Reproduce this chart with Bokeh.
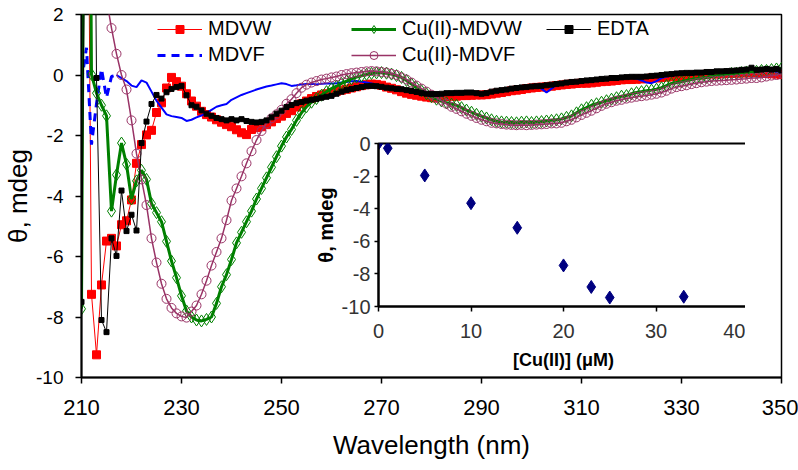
from bokeh.plotting import figure
from bokeh.models import Range1d, FixedTicker, Legend, LegendItem, GridBox
from bokeh.embed import file_html
from bokeh.resources import INLINE

FONT = "Liberation Sans"

wavelength = list(range(210, 351))

mdvw = [
    6.0, 14.0, -7.25, -9.25, -6.94, -5.49, -5.40, -5.65, -4.95, -4.82,
    -4.13, -2.92, -2.30, -1.98, -1.83, -1.24, -0.92, -0.43, -0.08, -0.22,
    -0.37, -0.62, -0.86, -1.03, -1.20, -1.31, -1.39, -1.48, -1.56, -1.64,
    -1.71, -1.81, -1.91, -1.97, -1.80, -1.74, -1.71, -1.64, -1.55, -1.44,
    -1.36, -1.27, -1.18, -1.06, -0.95, -0.86, -0.78, -0.71, -0.66, -0.62,
    -0.58, -0.54, -0.50, -0.47, -0.43, -0.39, -0.35, -0.32, -0.30, -0.31,
    -0.34, -0.40, -0.44, -0.49, -0.55, -0.60, -0.64, -0.67, -0.70, -0.73,
    -0.75, -0.76, -0.73, -0.71, -0.70, -0.70, -0.68, -0.68, -0.67, -0.66,
    -0.66, -0.65, -0.63, -0.60, -0.58, -0.55, -0.52, -0.50, -0.48, -0.45,
    -0.43, -0.41, -0.40, -0.39, -0.37, -0.35, -0.33, -0.31, -0.30, -0.28,
    -0.27, -0.27, -0.26, -0.24, -0.22, -0.21, -0.20, -0.18, -0.16, -0.15,
    -0.15, -0.14, -0.13, -0.12, -0.10, -0.10, -0.08, -0.07, -0.06, -0.05,
    -0.04, -0.03, -0.02, 0.00, 0.00, 0.02, 0.03, 0.03, 0.04, 0.05,
    0.05, 0.06, 0.07, 0.07, 0.08, 0.08, 0.06, 0.05, 0.04, 0.03,
    0.01,
]

mdvf = [
    -0.20, 0.90, -2.30, -0.95, 0.20, -0.75, -0.05, 0.00, -0.10, -0.20,
    -0.35, -0.40, -0.18, -0.25, -0.55, -0.85, -1.08, -1.30, -1.36, -1.39,
    -1.42, -1.52, -1.48, -1.40, -1.34, -1.25, -1.15, -1.05, -1.00, -0.96,
    -0.82, -0.74, -0.66, -0.60, -0.54, -0.48, -0.43, -0.38, -0.35, -0.31,
    -0.27, -0.30, -0.36, -0.34, -0.31, -0.30, -0.29, -0.31, -0.29, -0.28,
    -0.28, -0.27, -0.25, -0.23, -0.21, -0.20, -0.22, -0.25, -0.28, -0.32,
    -0.38, -0.42, -0.45, -0.48, -0.50, -0.52, -0.55, -0.57, -0.60, -0.62,
    -0.64, -0.65, -0.64, -0.63, -0.62, -0.62, -0.61, -0.60, -0.60, -0.61,
    -0.63, -0.62, -0.58, -0.55, -0.52, -0.50, -0.48, -0.45, -0.43, -0.42,
    -0.40, -0.40, -0.45, -0.58, -0.45, -0.33, -0.31, -0.28, -0.26, -0.25,
    -0.23, -0.22, -0.20, -0.18, -0.16, -0.15, -0.13, -0.12, -0.12, -0.10,
    -0.10, -0.12, -0.18, -0.25, -0.27, -0.20, -0.10, -0.05, -0.02, 0.00,
    0.02, 0.03, 0.05, 0.05, 0.06, 0.07, 0.08, 0.09, 0.10, 0.10,
    0.10, 0.12, 0.13, 0.14, 0.15, 0.15, 0.14, 0.13, 0.12, 0.10,
    0.05,
]

cu_mdvw = [
    -7.73, 25.0, 0.02, -0.60, -1.00, -1.35, -4.50, -3.30, -2.25, -2.95,
    -4.10, -3.50, -3.15, -3.45, -4.25, -4.55, -4.85, -5.50, -6.15, -6.70,
    -7.30, -7.80, -8.00, -8.10, -8.13, -8.08, -8.00, -7.55, -7.00, -6.60,
    -6.10, -5.55, -5.20, -4.85, -4.50, -4.10, -3.75, -3.40, -3.05, -2.70,
    -2.35, -2.05, -1.80, -1.50, -1.25, -1.05, -0.90, -0.78, -0.67, -0.55,
    -0.45, -0.37, -0.28, -0.20, -0.13, -0.07, -0.03, 0.02, 0.05, 0.07,
    0.08, 0.06, 0.03, -0.02, -0.08, -0.18, -0.30, -0.42, -0.52, -0.62,
    -0.72, -0.80, -0.86, -0.92, -0.96, -1.00, -1.08, -1.16, -1.23, -1.30,
    -1.36, -1.42, -1.48, -1.53, -1.55, -1.56, -1.57, -1.58, -1.56, -1.55,
    -1.57, -1.55, -1.54, -1.52, -1.50, -1.48, -1.45, -1.40, -1.35, -1.25,
    -1.15, -1.08, -1.00, -0.95, -0.90, -0.85, -0.80, -0.75, -0.70, -0.68,
    -0.62, -0.58, -0.55, -0.52, -0.50, -0.47, -0.42, -0.35, -0.28, -0.25,
    -0.22, -0.18, -0.15, -0.12, -0.10, -0.08, -0.05, -0.02, 0.00, 0.02,
    0.05, 0.06, 0.08, 0.10, 0.10, 0.12, 0.15, 0.15, 0.18, 0.20,
    0.22,
]

cu_mdvf = [
    9.0, 8.0, 6.0, 4.5, 3.4, 2.5, 1.55, 0.70, 0.00, -0.48,
    -1.50, -2.60, -3.45, -4.30, -5.40, -6.20, -6.90, -7.40, -7.70, -7.88,
    -7.98, -8.02, -7.82, -7.62, -7.25, -6.80, -6.30, -5.85, -5.40, -4.80,
    -4.15, -3.75, -3.35, -2.92, -2.52, -2.15, -1.85, -1.60, -1.43, -1.30,
    -1.15, -0.95, -0.80, -0.60, -0.42, -0.32, -0.25, -0.20, -0.15, -0.12,
    -0.08, -0.05, 0.00, 0.03, 0.06, 0.08, 0.10, 0.12, 0.13, 0.12,
    0.10, 0.08, 0.04, 0.00, -0.08, -0.15, -0.25, -0.35, -0.45, -0.55,
    -0.65, -0.75, -0.85, -0.95, -1.05, -1.12, -1.20, -1.28, -1.35, -1.42,
    -1.48, -1.53, -1.58, -1.60, -1.62, -1.64, -1.65, -1.66, -1.65, -1.66,
    -1.65, -1.64, -1.63, -1.62, -1.60, -1.60, -1.58, -1.53, -1.48, -1.40,
    -1.32, -1.25, -1.18, -1.10, -1.02, -0.95, -0.90, -0.85, -0.82, -0.78,
    -0.75, -0.72, -0.70, -0.68, -0.65, -0.62, -0.58, -0.52, -0.45, -0.40,
    -0.37, -0.34, -0.30, -0.27, -0.24, -0.22, -0.20, -0.19, -0.18, -0.17,
    -0.16, -0.15, -0.13, -0.12, -0.10, -0.10, -0.08, -0.05, -0.02, 0.00,
    0.05,
]

edta = [
    -7.50, 12.0, 20.0, -0.10, -8.10, -8.50, -5.40, -5.98, -3.82, -5.16,
    -4.62, -5.14, -2.25, -1.54, -0.96, -0.66, -0.78, -0.57, -0.46, -0.40,
    -0.36, -0.67, -1.00, -1.05, -1.17, -1.28, -1.35, -1.42, -1.46, -1.50,
    -1.46, -1.50, -1.46, -1.52, -1.55, -1.57, -1.55, -1.50, -1.40, -1.28,
    -1.18, -1.06, -0.99, -0.93, -0.89, -0.85, -0.82, -0.79, -0.75, -0.72,
    -0.69, -0.62, -0.55, -0.50, -0.46, -0.43, -0.40, -0.37, -0.36, -0.37,
    -0.39, -0.42, -0.44, -0.46, -0.47, -0.50, -0.53, -0.56, -0.60, -0.62,
    -0.63, -0.63, -0.62, -0.60, -0.60, -0.59, -0.59, -0.58, -0.58, -0.60,
    -0.62, -0.60, -0.55, -0.52, -0.50, -0.48, -0.45, -0.43, -0.41, -0.40,
    -0.38, -0.37, -0.36, -0.34, -0.32, -0.30, -0.28, -0.25, -0.23, -0.22,
    -0.20, -0.18, -0.17, -0.15, -0.13, -0.12, -0.10, -0.10, -0.08, -0.07,
    -0.06, -0.06, -0.06, -0.05, -0.03, -0.02, 0.00, 0.02, 0.03, 0.05,
    0.06, 0.07, 0.07, 0.08, 0.08, 0.10, 0.10, 0.12, 0.12, 0.13,
    0.14, 0.15, 0.17, 0.18, 0.24, 0.17, 0.18, 0.20, 0.18, 0.20,
    0.15,
]

x_ticks = [210, 230, 250, 270, 290, 310, 330, 350]
y_ticks = [-10, -8, -6, -4, -2, 0, 2]

# inset: titration
cu_conc = [0, 1, 5, 10, 15, 20, 23, 25, 33]
cu_theta = [0.0, -0.29, -1.96, -3.66, -5.17, -7.48, -8.80, -9.45, -9.40]
inset_x_ticks = [0, 10, 20, 30, 40]
inset_y_ticks = [-10, -8, -6, -4, -2, 0]

# ---------------- main figure ----------------
p = figure(width=798, height=468, x_range=Range1d(210, 350), y_range=Range1d(-10, 2),
           output_backend="svg", toolbar_location=None,
           min_border_left=76, min_border_right=17, min_border_top=10, min_border_bottom=91)
p.background_fill_color = "white"
p.border_fill_color = "white"
p.grid.visible = False
p.outline_line_color = "black"
p.outline_line_width = 1.5

for ax in (p.xaxis[0], p.yaxis[0]):
    ax.axis_line_color = "black"
    ax.axis_line_width = 2
    ax.major_tick_line_color = "black"
    ax.major_tick_line_width = 1.5
    ax.major_tick_in = 0
    ax.major_tick_out = 6
    ax.minor_tick_line_color = None
    ax.major_label_text_font = FONT
    ax.major_label_text_color = "black"
    ax.axis_label_text_font = FONT
    ax.axis_label_text_font_style = "normal"
    ax.axis_label_text_color = "black"

p.xaxis.ticker = FixedTicker(ticks=x_ticks)
p.yaxis.ticker = FixedTicker(ticks=y_ticks)
p.yaxis.major_label_overrides = {v: str(v) for v in y_ticks}
p.xaxis.major_label_text_font_size = "22px"
p.yaxis.major_label_text_font_size = "19px"
p.xaxis.major_label_standoff = 16
p.yaxis.major_label_standoff = 12
p.xaxis.axis_label = "Wavelength (nm)"
p.yaxis.axis_label = "θ, mdeg"
p.xaxis.axis_label_text_font_size = "26px"
p.yaxis.axis_label_text_font_size = "26px"
p.xaxis.axis_label_standoff = 12
p.yaxis.axis_label_standoff = 0

r_red_l = p.line(wavelength, mdvw, line_color="#FF0000", line_width=1)
r_red_m = p.scatter(wavelength, mdvw, marker="square", size=8, fill_color="#FF0000", line_color="#FF0000")

r_blue_d = p.line(wavelength[:8], mdvf[:8], line_color="#0000FF", line_width=3, line_dash="8 6")
r_blue_s = p.line(wavelength[7:], mdvf[7:], line_color="#0000FF", line_width=2)

r_grn_l = p.line(wavelength, cu_mdvw, line_color="#008000", line_width=3)
r_grn_m = p.scatter(wavelength, cu_mdvw, marker="diamond", size=12, fill_color=None,
                    line_color="#008000", line_width=1)

r_pur_l = p.line(wavelength, cu_mdvf, line_color="#993366", line_width=1.5)
r_pur_m = p.scatter(wavelength, cu_mdvf, marker="circle", size=9, fill_color=None,
                    line_color="#993366", line_width=1)

r_blk_l = p.line(wavelength, edta, line_color="black", line_width=1)
r_blk_m = p.scatter(wavelength, edta, marker="square", size=5, fill_color="black", line_color="black")


def make_legend(items, loc):
    lg = Legend(items=items, location=loc, orientation="vertical",
                background_fill_alpha=0, border_line_alpha=0,
                label_text_font=FONT, label_text_font_size="20px", label_text_color="black",
                glyph_width=45, glyph_height=20, label_height=20, label_standoff=6,
                spacing=3, padding=0, margin=0)
    return lg


p.add_layout(make_legend([LegendItem(label="MDVW", renderers=[r_red_l, r_red_m]),
                          LegendItem(label="MDVF", renderers=[r_blue_d])], (76, 311)))
p.add_layout(make_legend([LegendItem(label="Cu(II)-MDVW", renderers=[r_grn_l, r_grn_m]),
                          LegendItem(label="Cu(II)-MDVF", renderers=[r_pur_l, r_pur_m])], (270, 311)))
p.add_layout(make_legend([LegendItem(label="EDTA", renderers=[r_blk_l, r_blk_m])], (465, 337)))

# ---------------- inset figure ----------------
ins = figure(frame_width=370, frame_height=163, x_range=Range1d(0, 40), y_range=Range1d(-10, 0),
             output_backend="svg", toolbar_location=None,
             min_border_left=70, min_border_right=8, min_border_top=14, min_border_bottom=70,
             margin=(129, 0, 0, 297), align="start")
ins.background_fill_color = "white"
ins.border_fill_alpha = 0
ins.grid.visible = False
ins.outline_line_color = "black"
ins.outline_line_width = 2
for ax in (ins.xaxis[0], ins.yaxis[0]):
    ax.axis_line_color = "black"
    ax.axis_line_width = 2
    ax.major_tick_line_color = "black"
    ax.major_tick_line_width = 1.5
    ax.major_tick_in = 0
    ax.minor_tick_line_color = None
    ax.major_label_text_font = FONT
    ax.major_label_text_font_size = "20px"
    ax.major_label_text_color = "#333333"
    ax.axis_label_text_font = FONT
    ax.axis_label_text_font_style = "bold"
    ax.axis_label_text_color = "black"
ins.xaxis.ticker = FixedTicker(ticks=inset_x_ticks)
ins.yaxis.ticker = FixedTicker(ticks=inset_y_ticks)
ins.yaxis.major_label_overrides = {v: str(v) for v in inset_y_ticks}
ins.xaxis.major_tick_out = 5
ins.yaxis.major_tick_out = 4
ins.xaxis.major_label_standoff = 12
ins.yaxis.major_label_standoff = 4
ins.xaxis.axis_label = "[Cu(II)] (μM)"
ins.yaxis.axis_label = "θ, mdeg"
ins.xaxis.axis_label_text_font_size = "18px"
ins.yaxis.axis_label_text_font_size = "20px"
ins.xaxis.axis_label_standoff = 9
ins.yaxis.axis_label_standoff = 2
ins.scatter(cu_conc, cu_theta, marker="diamond", size=13, fill_color="#000080", line_color="#000080")

layout = GridBox(children=[(p, 0, 0), (ins, 0, 0)])

open("out.html", "w").write(file_html(layout, INLINE))
